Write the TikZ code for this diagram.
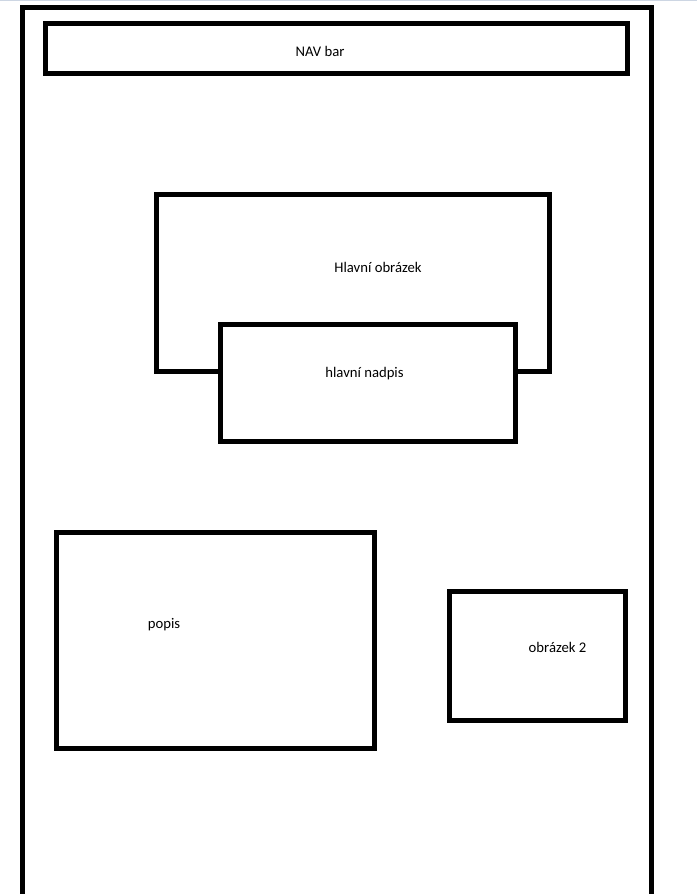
\documentclass[tikz,border=0pt]{standalone}
\usepackage{fontspec}
\setmainfont{Carlito}
\begin{document}
\begin{tikzpicture}[x=1pt,y=-1pt,
  frame/.style={draw=black,line width=5pt,inner sep=0pt,outer sep=0pt,fill=white},
  label/.style={inner sep=0pt,font=\fontsize{14.7}{17}\selectfont,text=black}]
\useasboundingbox[fill=white] (0,0) rectangle (697,894);
% thin strip along the top edge
\fill[color={rgb,255:red,205;green,214;blue,227}] (0,0) rectangle (697,1.2);

% page frame, open at the bottom
\coordinate (fbl) at (22.5,897);
\coordinate (ftl) at (22.5,7.5);
\coordinate (ftr) at (651.5,7.5);
\coordinate (fbr) at (651.5,897);
\draw[line width=5pt,line join=miter] (fbl) -- (ftl) -- (ftr) -- (fbr);

% blocks
\node[frame,minimum width=582pt,minimum height=50pt] (nav) at (336.5,48.5) {};
\node[frame,minimum width=393pt,minimum height=177pt] (hero) at (353,283) {};
\node[frame,minimum width=295pt,minimum height=117pt] (title) at (368,383) {};
\node[frame,minimum width=318pt,minimum height=216pt] (desc) at (215.5,640.5) {};
\node[frame,minimum width=176pt,minimum height=129pt] (img2) at (537.5,656) {};

% captions
\node[label] (navt) at (320,51) {NAV bar};
\node[label] (herot) at (378,267) {Hlavní obrázek};
\node[label] (titlet) at (364.5,374) {hlavní nadpis};
\node[label] (desct) at (164,625) {popis};
\node[label] (img2t) at (557.5,647) {obrázek 2};
\end{tikzpicture}
\end{document}
